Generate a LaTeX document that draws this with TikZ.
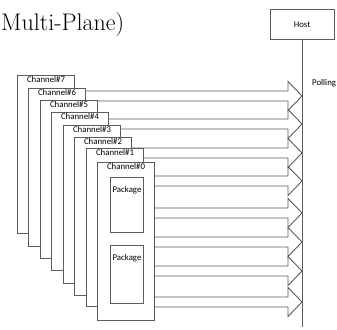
\documentclass[tikz,border=0pt]{standalone}
\usepackage{fontspec}
\newfontfamily\uifont{Carlito}
\usetikzlibrary{calc}
\definecolor{edge}{HTML}{5C5C5C}
\tikzset{%
	blk/.style={to path={%
	($(\tikztostart)+(0,-5)$)--($(\tikztotarget)+(-14,-5)$)--($(\tikztotarget)+(-14,-14.5)$)--(\tikztotarget)--($(\tikztotarget)+(-14,14.5)$)--($(\tikztotarget)+(-14,5)$)--($(\tikztostart)+(0,5)$)--cycle%
	\tikztonodes}}
}

\begin{document}
\begin{tikzpicture}[x=1pt,y=-1pt,
		chan/.style={draw=edge,line width=1.1pt,fill=white,minimum width=57,minimum height=158,inner sep=0pt,anchor=north west,name=#1},
		pkg/.style={draw=edge,line width=1pt,fill=white,minimum width=33,inner sep=0pt,anchor=north west,name=#1},
		every label/.style={anchor=north,inner sep=1.6pt,font=\uifont\fontsize{8.8}{10}\selectfont}]
				\useasboundingbox (0,0) rectangle (337,329);
				\node [anchor=base west, inner sep=0pt, font=\fontsize{24}{28}\selectfont] (title) at (1,31) {Multi-Plane)};
				\node [draw=edge, line width=1pt, minimum width=64, minimum height=30, font=\uifont\fontsize{8.8}{10}\selectfont] (host) at (302,25) {Host};
				\coordinate (bus) at (302,327);
				\draw [edge, line width=1pt] (host) -- (bus);
				\node [anchor=west, inner sep=0pt, font=\uifont\fontsize{8.8}{10}\selectfont] (poll) at (312,83) {Polling};
				\coordinate (s1) at (50,96);
				\coordinate (s2) at (70,124);
				\coordinate (s3) at (100,153);
				\coordinate (s4) at (115,181);
				\coordinate (s5) at (115,213);
				\coordinate (s6) at (115,242);
				\coordinate (s7) at (115,271);
				\coordinate (s8) at (115,302);
				\draw [edge, line width=0.9pt, blk] (s1) to (s1 -| bus);
				\draw [edge, line width=0.9pt, blk] (s2) to (s2 -| bus);
				\draw [edge, line width=0.9pt, blk] (s3) to (s3 -| bus);
				\draw [edge, line width=0.9pt, blk] (s4) to (s4 -| bus);
				\draw [edge, line width=0.9pt, blk] (s5) to (s5 -| bus);
				\draw [edge, line width=0.9pt, blk] (s6) to (s6 -| bus);
				\draw [edge, line width=0.9pt, blk] (s7) to (s7 -| bus);
				\draw [edge, line width=0.9pt, blk] (s8) to (s8 -| bus);
				\node [chan=ch7, label={north:Channel\#7}] at (17,75) {};
				\node [chan=ch6, label={north:Channel\#6}] at (28,88) {};
				\node [chan=ch5, label={north:Channel\#5}] at (40,100) {};
				\node [chan=ch4, label={north:Channel\#4}] at (51,112) {};
				\node [chan=ch3, label={north:Channel\#3}] at (63,125) {};
				\node [chan=ch2, label={north:Channel\#2}] at (74,137) {};
				\node [chan=ch1, label={north:Channel\#1}] at (86,148) {};
				\node [chan=ch0, label={north:Channel\#0}] at (97,162) {};
				\node [pkg=p1, minimum height=55, label={[yshift=-8]north:Package}] at (110,177) {};
				\node [pkg=p2, minimum height=58, label={[yshift=-8]north:Package}] at (110,245) {};
			\end{tikzpicture}
\end{document}
